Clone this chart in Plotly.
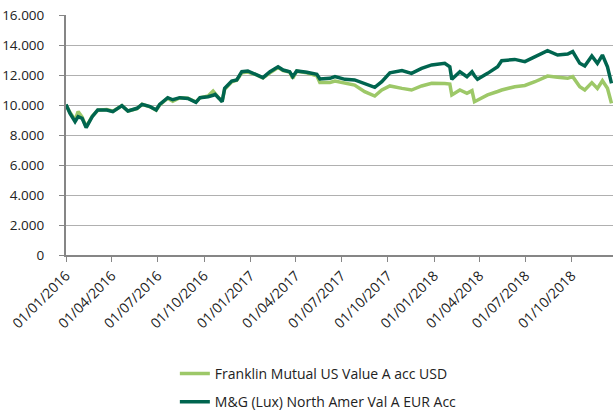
import plotly.graph_objects as go

dates = ["2016-01-01","2016-01-09","2016-01-19","2016-01-25","2016-02-02","2016-02-10","2016-02-22","2016-03-04","2016-03-22","2016-04-03",
"2016-04-21","2016-05-03","2016-05-21","2016-05-31","2016-06-16","2016-06-28","2016-07-05","2016-07-21","2016-07-31","2016-08-14",
"2016-08-30","2016-09-15","2016-09-23","2016-10-09","2016-10-19","2016-10-23","2016-10-31","2016-11-06","2016-11-11","2016-11-25",
"2016-12-05","2016-12-15","2016-12-27","2017-01-10","2017-01-26","2017-02-09","2017-02-25","2017-03-07","2017-03-20","2017-03-26",
"2017-04-03","2017-04-23","2017-05-13","2017-05-19","2017-06-08","2017-06-18","2017-07-08","2017-07-27","2017-08-16","2017-09-05",
"2017-09-19","2017-10-05","2017-10-29","2017-11-17","2017-12-07","2017-12-27","2018-01-22","2018-02-01","2018-02-05","2018-02-21",
"2018-03-07","2018-03-17","2018-03-22","2018-03-28","2018-04-17","2018-05-07","2018-05-15","2018-06-10","2018-06-30","2018-07-20",
"2018-08-14","2018-09-03","2018-09-23","2018-10-03","2018-10-17","2018-10-27","2018-11-10","2018-11-21","2018-12-01","2018-12-11",
"2018-12-19"]

franklin = [10000,9500,9000,9560,9200,8550,9250,9650,9700,9580,
9950,9600,9750,10050,9880,9650,10000,10450,10250,10480,
10450,10200,10480,10600,10930,10750,10450,10250,11050,11550,
11650,12150,12200,12050,11800,12150,12500,12300,12200,11780,
12250,12150,11950,11500,11500,11600,11440,11330,10890,10600,
11000,11270,11110,11000,11270,11450,11440,11400,10670,11000,
10780,10960,10220,10330,10670,10900,11000,11220,11300,11550,
11930,11850,11780,11890,11220,11000,11490,11110,11620,11110,
10110]

mg = [10040,9440,8890,9220,9110,8490,9220,9670,9670,9560,
9960,9600,9780,10040,9890,9670,10040,10490,10350,10490,
10440,10180,10490,10550,10650,10710,10440,10220,11110,11600,
11670,12220,12270,12040,11820,12220,12550,12330,12220,11890,
12270,12180,12040,11730,11780,11900,11710,11670,11440,11180,
11550,12150,12290,12110,12440,12670,12780,12550,11710,12220,
11890,12220,11950,11710,12110,12550,12950,13040,12890,13220,
13620,13330,13400,13560,12780,12600,13270,12780,13330,12550,
11440]

tick_dates = ["2016-01-01","2016-04-01","2016-07-01","2016-10-01","2017-01-01","2017-04-01",
              "2017-07-01","2017-10-01","2018-01-01","2018-04-01","2018-07-01","2018-10-01"]
tick_labels = ["01/01/2016","01/04/2016","01/07/2016","01/10/2016","01/01/2017","01/04/2017",
               "01/07/2017","01/10/2017","01/01/2018","01/04/2018","01/07/2018","01/10/2018"]
y_vals = [0,2000,4000,6000,8000,10000,12000,14000,16000]
y_labels = ["0","2.000","4.000","6.000","8.000","10.000","12.000","14.000","16.000"]

fig = go.Figure()
fig.add_trace(go.Scatter(x=dates, y=franklin, mode="lines", name="Franklin Mutual US Value A acc USD",
                         legendgroup="a", line=dict(color="#9DC868", width=3.5)))
fig.add_trace(go.Scatter(x=dates, y=mg, mode="lines", name="M&G (Lux) North Amer Val A EUR Acc",
                         legendgroup="b", line=dict(color="#00654F", width=3.5)))

font = "Open Sans, Liberation Sans, sans-serif"
fig.update_layout(
    width=613, height=411,
    margin=dict(l=66, r=0, t=15, b=156, autoexpand=False),
    plot_bgcolor="white", paper_bgcolor="white",
    font=dict(family=font, size=14, color="#222"),
    showlegend=True,
    legend=dict(orientation="v", x=0.199, xanchor="left", y=-0.429, yanchor="top",
                font=dict(size=14), traceorder="grouped", tracegroupgap=7, itemwidth=30),
    xaxis=dict(type="date", range=["2016-01-01", "2018-12-22"], automargin=False,
               tickvals=tick_dates, ticktext=tick_labels, tickangle=-45,
               showgrid=False, showline=True, linecolor="#868686", linewidth=2,
               ticks="outside", tickcolor="#868686", ticklen=5, zeroline=False,
               ticklabeloverflow="allow", tickfont=dict(size=14)),
    yaxis=dict(range=[0, 16000], tickvals=y_vals, ticktext=y_labels, automargin=False,
               showgrid=True, gridcolor="#B0B0B0", gridwidth=1,
               showline=True, linecolor="#868686", linewidth=2,
               ticks="outside", tickcolor="#868686", ticklen=5, zeroline=False,
               ticklabeloverflow="allow", ticklabelstandoff=12, tickfont=dict(size=13.5)),
)
fig.write_html("out.html", config={"displayModeBar": False},
               post_script="document.body.style.margin='0';document.body.style.overflow='hidden';")
